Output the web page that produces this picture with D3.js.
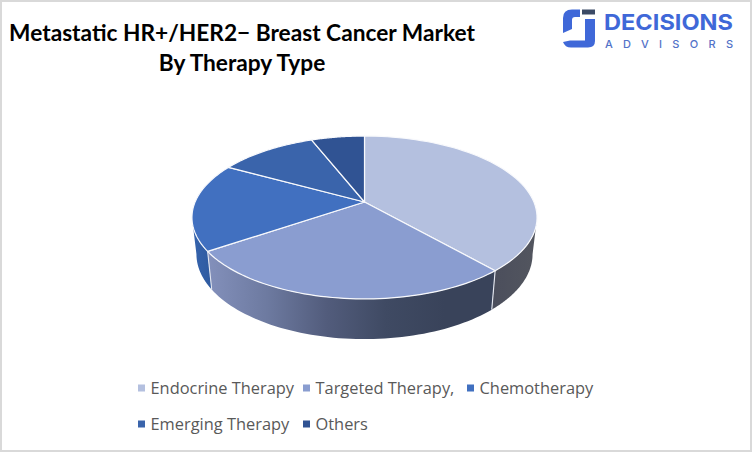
<!DOCTYPE html>
<html><head><meta charset="utf-8">
<script src="https://cdn.jsdelivr.net/npm/d3@7"></script>
<style>html,body{margin:0;padding:0;background:#fff}svg{display:block}</style>
</head><body><svg id="c" width="752" height="452"></svg>
<script>
const categories = ["Endocrine Therapy","Targeted Therapy,","Chemotherapy","Emerging Therapy","Others"];
const shares = [38.5,27,17.5,11,6];
const topColors = ["#b4c0df","#8a9dd0","#4170c0","#3a64ab","#305393"];
const wallEndocrine = ["#4b4e5c","#53565f"];
const wallTargeted = ["#8390bb","#6d7aa0","#525c7c","#3f4a63","#39435a"];
const wallChemo = ["#3563ad","#2f5a9f"];
const titleLines = ["Metastatic HR+/HER2− Breast Cancer Market","By Therapy Type"];

const svg = d3.select("#c");
const defs = svg.append("defs");
svg.append("rect").attr("x",1).attr("y",1).attr("width",750).attr("height",450).attr("fill","#fff").attr("stroke","#d9d9d9").attr("stroke-width",2);

// perspective disks for top and bottom of pie
const topDisk = {x:364.5,y:202,a:169.4,b:78.5,p:0.19};
const botDisk = {x:364.5,y:238,a:165,b:81.9,p:0.19};
const proj = (d,ang)=>{const u=Math.sin(ang),v=Math.cos(ang),w=1+d.p*v;return [d.x+d.a*u/w,d.y-d.b*v/w];};
const arcPts=(d,a0,a1)=>d3.range(0,61).map(i=>proj(d,a0+(a1-a0)*i/60));
const line=d3.line();

const pie=d3.pie().sort(null).value(d=>d)(shares);

const wallGrad=(id,x1,x2,stops)=>{const g=defs.append("linearGradient").attr("id",id).attr("gradientUnits","userSpaceOnUse").attr("x1",x1).attr("x2",x2).attr("y1",0).attr("y2",0);
  stops.forEach((c,i)=>g.append("stop").attr("offset",i/(stops.length-1)).attr("stop-color",c));};
wallGrad("w0",492,537,wallEndocrine);
wallGrad("w1",208,445,wallTargeted);
wallGrad("w2",193,212,wallChemo);
const aR=Math.acos(-topDisk.p), aL=2*Math.PI-aR;
[[pie[0].endAngle,aR,"w0"],[pie[1].startAngle,pie[1].endAngle,"w1"],[pie[1].endAngle,aL,"w2"]].forEach(([a0,a1,id])=>{
  const pts=arcPts(topDisk,a0,a1).concat(arcPts(botDisk,a0,a1).reverse());
  svg.append("path").attr("d",line(pts)+"Z").attr("fill",`url(#${id})`);
});
// wall seams
[pie[0].endAngle,pie[1].endAngle].forEach(a=>{
  svg.append("path").attr("d",line([proj(topDisk,a),proj(botDisk,a)])).attr("stroke","#e4e7f0").attr("stroke-width",1.1).attr("fill","none");
});
// top slices
pie.forEach((s,i)=>{
  const pts=[[topDisk.x,topDisk.y]].concat(arcPts(topDisk,s.startAngle,s.endAngle));
  svg.append("path").attr("d",line(pts)+"Z").attr("fill",topColors[i]).attr("stroke","#f8f9fc").attr("stroke-width",1.2).attr("stroke-linejoin","round");
});

// title
svg.append("g").selectAll("text").data(titleLines).join("text")
  .attr("x",242).attr("y",(d,i)=>40.5+i*30).attr("text-anchor","middle")
  .attr("font-family","Lato").attr("font-weight",700).attr("font-size",22.7).attr("fill","#000").text(d=>d);

// legend
const lg=[[138,388],[303,388],[467,388],[138,424],[303,424]];
const legend=svg.append("g").selectAll("g").data(categories).join("g").attr("transform",(d,i)=>`translate(${lg[i][0]},${lg[i][1]})`);
legend.append("rect").attr("y",-3.5).attr("width",7).attr("height",7).attr("fill",(d,i)=>topColors[i]);
legend.append("text").attr("x",12.5).attr("y",6).attr("font-family","Open Sans").attr("font-size",16.4).attr("fill","#595959").text(d=>d);

// logo
const logo=svg.append("g");
logo.append("path").attr("fill","#3f68d8").attr("d","M563 33 L563 18 Q563 9.5 572 9.5 L580 9.5 L580 17 L575 17 Q572 17 572 20 L572 29 Z");
logo.append("path").attr("fill","#3f68d8").attr("d","M563 42 L570 40.5 L585 40.5 L585 19 L595 19 L595 41 Q595 47.5 588 47.5 L571 47.5 Q565 47.5 563 42Z");
logo.append("rect").attr("x",582).attr("y",9.5).attr("width",13).attr("height",5).attr("fill","#3b4a66");
logo.append("text").attr("x",604).attr("y",29.5).attr("font-family","Inter").attr("font-weight",700).attr("font-size",21.5).attr("fill","#3f68d8").attr("textLength",129).attr("lengthAdjust","spacingAndGlyphs").text("DECISIONS");
logo.append("text").attr("x",605).attr("y",47.5).attr("font-family","Inter").attr("font-weight",500).attr("font-size",11).attr("fill","#5272c8").attr("textLength",128).text("ADVISORS");
</script></body></html>
